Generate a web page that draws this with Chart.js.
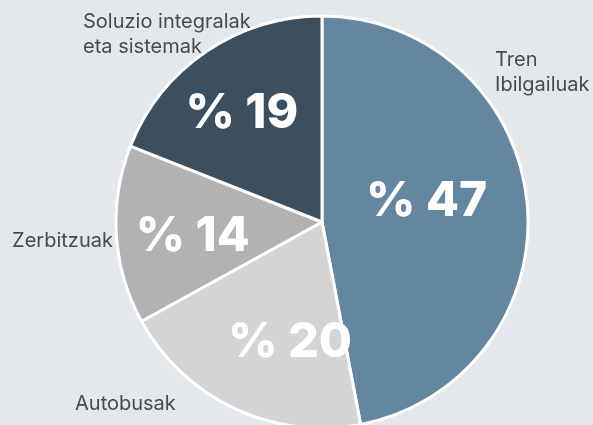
<!DOCTYPE html>
<html>
<head>
<meta charset="utf-8">
<script src="https://cdn.jsdelivr.net/npm/chart.js@4"></script>
<style>
  html, body { margin: 0; padding: 0; background: #e3e8eb; }
  #wrap { width: 593px; height: 425px; position: relative; }
</style>
</head>
<body>
<div id="wrap"><canvas id="c" width="593" height="425"></canvas></div>
<script>
// ---- data ----
const categories = [
  ["Tren", "Ibilgailuak"],
  ["Autobusak"],
  ["Zerbitzuak"],
  ["Soluzio integralak", "eta sistemak"]
];
const values = [47, 20, 14, 19];
const valueLabels = ["% 47", "% 20", "% 14", "% 19"];

// ---- styling ----
const sliceColors = ["#64879f", "#d5d3d3", "#b2b2b2", "#3c4f5f"];
const RADIUS = 206;
// value label placement: angular offset (deg) from slice mid and radial fraction
const valuePlace = [
  { da: -7, f: 0.52 },
  { da: -10, f: 0.59 },
  { da: -1.4, f: 0.63 },
  { da: -1.6, f: 0.665 }
];
// outer category label placement, in units of radius from centre (first baseline)
const catPlace = [
  { dx: 0.840, dy: -0.757, align: "left" },
  { dx: -1.199, dy: 0.913, align: "left" },
  { dx: -1.015, dy: 0.121, align: "right" },
  { dx: -1.160, dy: -0.942, align: "left" }
];

const labelPlugin = {
  id: "labels",
  afterDatasetsDraw(chart) {
    const ctx = chart.ctx;
    const meta = chart.getDatasetMeta(0);
    ctx.save();
    meta.data.forEach((arc, i) => {
      const p = arc.getProps(["x", "y", "startAngle", "endAngle", "outerRadius"], true);
      const mid = (p.startAngle + p.endAngle) / 2 + valuePlace[i].da * Math.PI / 180;
      const r = p.outerRadius * valuePlace[i].f;
      const cx = p.x + Math.cos(mid) * r;
      const cy = p.y + Math.sin(mid) * r;
      const fs = 48;
      ctx.font = "800 " + fs + "px Inter";
      ctx.fillStyle = "#ffffff";
      ctx.textAlign = "center";
      ctx.textBaseline = "alphabetic";
      ctx.fillText(valueLabels[i], cx, cy + fs * 0.364);

      // category label
      const cp = catPlace[i];
      ctx.font = "400 20px Inter";
      ctx.fillStyle = "#4a4a4a";
      ctx.textAlign = cp.align;
      const lx = p.x + cp.dx * p.outerRadius;
      let ly = p.y + cp.dy * p.outerRadius;
      categories[i].forEach((line) => {
        ctx.fillText(line, lx, ly);
        ly += 25;
      });
    });
    ctx.restore();
  }
};

new Chart(document.getElementById("c"), {
  type: "pie",
  data: {
    labels: categories.map(c => c.join(" ")),
    datasets: [{
      data: values,
      backgroundColor: sliceColors,
      borderColor: "#ffffff",
      borderWidth: 3
    }]
  },
  options: {
    responsive: false,
    animation: false,
    radius: RADIUS,
    layout: { padding: { left: 51, right: 0, top: 19, bottom: 0 } },
    plugins: {
      legend: { display: false },
      tooltip: { enabled: false }
    }
  },
  plugins: [labelPlugin]
});
</script>
</body>
</html>
